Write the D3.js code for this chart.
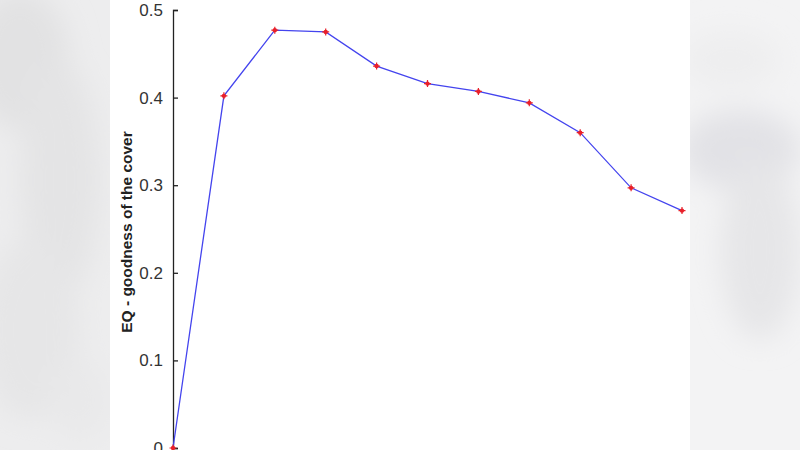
<!DOCTYPE html>
<html><head><meta charset="utf-8">
<script src="https://cdn.jsdelivr.net/npm/d3@7"></script>
<style>html,body{margin:0;padding:0;background:#fff;}svg{display:block;}</style>
</head><body>
<svg id="c" width="800" height="450"></svg>
<script>
const xValues = [0, 1, 2, 3, 4, 5, 6, 7, 8, 9, 10];
const eqValues = [0, 0.402, 0.477, 0.475, 0.436, 0.416, 0.407, 0.394, 0.360, 0.297, 0.271];
const yTicks = [0, 0.1, 0.2, 0.3, 0.4, 0.5];
const yLabel = "EQ - goodness of the cover";

const svg = d3.select("#c");
const defs = svg.append("defs");
defs.append("filter").attr("id","blur").attr("x","-50%").attr("y","-50%").attr("width","200%").attr("height","200%")
  .append("feGaussianBlur").attr("stdDeviation", 14);

// blurred side backgrounds
const bg = svg.append("g");
bg.append("rect").attr("x",0).attr("y",0).attr("width",110).attr("height",450).attr("fill","#ededee");
bg.append("rect").attr("x",690).attr("y",0).attr("width",110).attr("height",450).attr("fill","#f3f3f4");
const blobs = bg.append("g").attr("filter","url(#blur)");
[[20,60,50,70,"#e2e2e3"],[60,180,40,120,"#e4e4e5"],[30,330,50,90,"#e6e6e7"],[80,400,30,40,"#e9e9ea"],
 [740,150,60,40,"#e2e2e6"],[760,250,40,90,"#e6e6e8"],[730,60,50,30,"#eeeeef"]].forEach(b=>{
  blobs.append("ellipse").attr("cx",b[0]).attr("cy",b[1]).attr("rx",b[2]).attr("ry",b[3]).attr("fill",b[4]);
});
svg.append("rect").attr("x",110).attr("y",0).attr("width",580).attr("height",450).attr("fill","#fff");

const x = d3.scaleLinear().domain([0, 10]).range([173, 682]);
const y = d3.scaleLinear().domain([0, 0.5]).range([448, 10]);

const axis = svg.append("g").attr("transform","translate(173,0)")
  .call(d3.axisLeft(y).tickValues(yTicks).tickSize(-5).tickPadding(10)
        .tickFormat(d => d === 0 ? "0" : d3.format(".1f")(d)));
axis.select(".domain").attr("stroke","#222").attr("stroke-width",1.3);
axis.selectAll(".tick line").attr("stroke","#222").attr("stroke-width",1.3);
axis.selectAll(".tick text").attr("font-family","'Liberation Sans Narrow','Liberation Sans',Arial,sans-serif")
  .attr("font-size",17).attr("fill","#333");

svg.append("text")
  .attr("transform","translate(132,232) rotate(-90)")
  .attr("text-anchor","middle")
  .attr("font-family","'Liberation Sans',Arial,sans-serif")
  .attr("font-weight","bold").attr("font-size",15.5).attr("fill","#222")
  .text(yLabel);

const data = xValues.map((d,i)=>({x:d, y:eqValues[i]}));
svg.append("path").datum(data)
  .attr("fill","none").attr("stroke","#4444ee").attr("stroke-width",1.3)
  .attr("d", d3.line().x(d=>x(d.x)).y(d=>y(d.y)));

const m = svg.append("g").selectAll("g").data(data).join("g")
  .attr("transform", d=>`translate(${x(d.x)},${y(d.y)})`);
m.append("circle").attr("r",2.2).attr("fill","#e8202a");
m.append("path").attr("d","M-3.5,0H3.5M0,-3.5V3.5").attr("stroke","#e8202a").attr("stroke-width",1.2);
</script>
</body></html>
